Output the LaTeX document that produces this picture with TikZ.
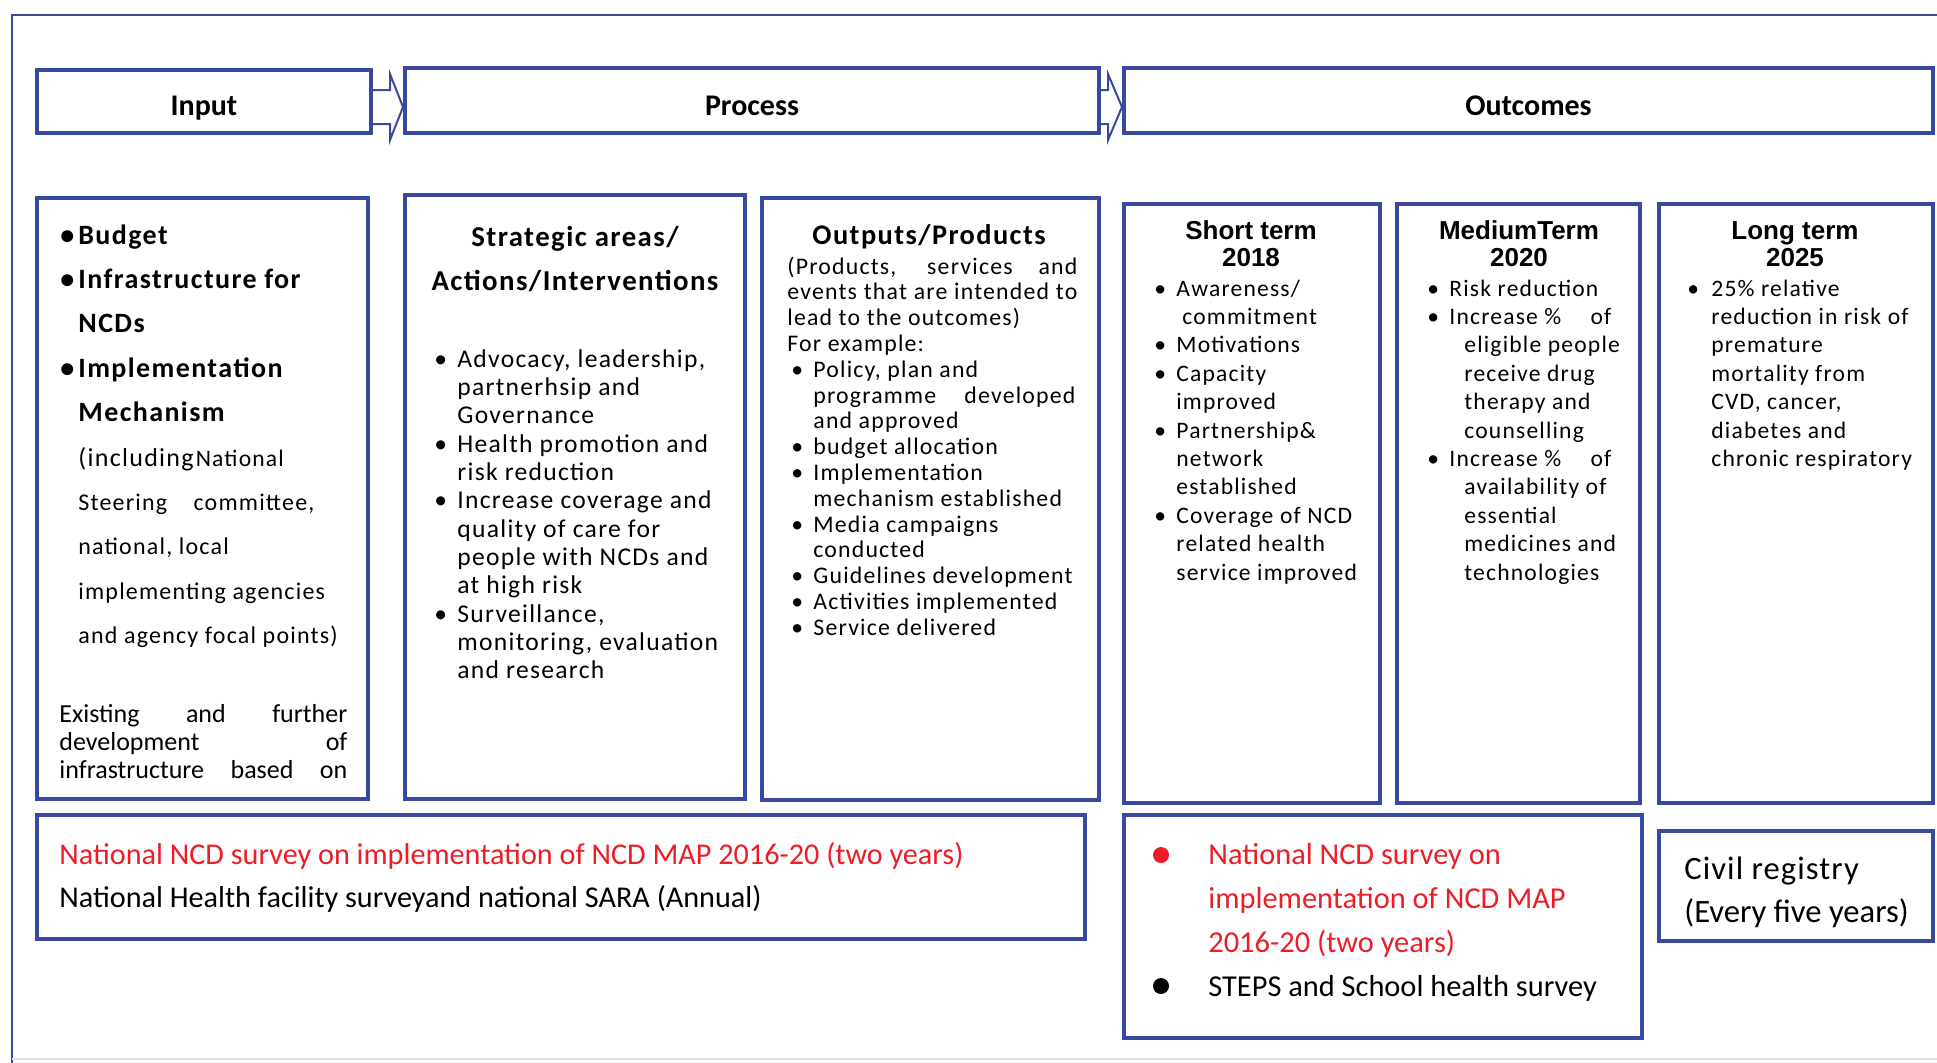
\documentclass[tikz,border=0pt]{standalone}
\usepackage{fontspec}
\setmainfont{Carlito}
\newfontfamily\widefont[LetterSpace=5]{Carlito}
\newfontfamily\arialfont{Liberation Sans}
\usetikzlibrary{fit,calc}

\definecolor{marco}{RGB}{57,73,160}
\definecolor{rojo}{RGB}{235,30,40}

% columna de vinetas
\newlength\sangria
\setlength\sangria{11pt}
\newcommand{\pto}{\makebox[\sangria][l]{\textbullet}}
\newcommand{\sig}{\hspace*{\sangria}}

\begin{document}
\begin{tikzpicture}[x=0.5pt, y=-0.5pt,
	caja/.style={draw=marco, line width=2pt, inner sep=0pt},
	encab/.style={font=\bfseries\fontsize{15}{18}\selectfont, inner sep=0pt},
	flecha/.style={draw=marco, line width=1pt},
	txt/.style={anchor=base west, inner sep=0pt},
	tit/.style={anchor=base, inner sep=0pt},
	punto/.style={circle, minimum size=8pt, inner sep=0pt}]

	% Dibujar el marco
	\useasboundingbox (0,0) rectangle (1937,1062);
	\fill[white] (0,0) rectangle (1937,1062);
	\draw[marco, line width=1.2pt] (1945,15) -- (12,15) -- (12,1065);
	\draw[gray!25, line width=1pt] (12,1059) -- (1937,1059);

	% Encabezados
	\node[caja, fit={(37,70) (371,133)}] (inhd) {};
	\node[caja, fit={(405,68) (1099,133)}] (prhd) {};
	\node[caja, fit={(1124,68) (1933,133)}] (ouhd) {};
	\node[encab] (inlab) at ($(inhd.center)+(0,7)$) {Input};
	\node[encab] (prlab) at ($(prhd.center)+(0,5)$) {Process};
	\node[encab] (oulab) at ($(ouhd.center)+(0,5)$) {Outcomes};

	% Flechas entre encabezados
	\draw[flecha] ($(inhd.east)+(0,-11.5)$) -- ++(17,0) -- ++(0,-16) -- ($(prhd.west)+(0,6.5)$)
		-- ($(inhd.east)+(17,38.5)$) -- ++(0,-16) -- ($(inhd.east)+(0,22.5)$);
	\draw[flecha] ($(prhd.east)+(0,-10.5)$) -- ++(7,0) -- ++(0,-16) -- ($(ouhd.west)+(0,6.5)$)
		-- ($(prhd.east)+(7,39.5)$) -- ++(0,-16) -- ($(prhd.east)+(0,23.5)$);

	% Cajas de contenido
	\node[caja, fit={(37,198) (368,799)}] (inbox) {};
	\node[caja, fit={(405,195) (745,799)}] (esbox) {};
	\node[caja, fit={(762,198) (1099,800)}] (opbox) {};
	\node[caja, fit={(1124,204) (1380,803)}] (ctbox) {};
	\node[caja, fit={(1397,204) (1640,803)}] (mpbox) {};
	\node[caja, fit={(1659,204) (1933,803)}] (lpbox) {};

	% Cajas de encuestas
	\node[caja, fit={(37,815) (1085,939)}] (sv1) {};
	\node[caja, fit={(1124,815) (1642,1038)}] (sv2) {};
	\node[caja, fit={(1659,831) (1933,941)}] (civ) {};

	% Texto de insumos
	\node[txt, font={\widefont\bfseries\fontsize{14}{22.2}\selectfont}] (intx) at (60,244) {\setlength\sangria{9pt}%
		\begin{tabular}[t]{@{}l@{}}
			\pto Budget\\
			\pto Infrastructure for\\
			\sig NCDs\\
			\pto Implementation\\
			\sig Mechanism\\
			\sig{\mdseries\fontsize{13}{22.2}\selectfont(including\kern1pt}{\mdseries\fontsize{11.8}{22.2}\selectfont National}\\
			\sig{\mdseries\fontsize{12}{22.2}\selectfont\makebox[118pt][s]{Steering committee,}}\\
			\sig{\mdseries\fontsize{12}{22.2}\selectfont national, local}\\
			\sig{\mdseries\fontsize{12}{22.2}\selectfont implementing agencies}\\
			\sig{\mdseries\fontsize{12}{22.2}\selectfont and agency focal points)}
		\end{tabular}};
	\node[txt, font={\fontsize{13}{14}\selectfont}] (extx) at (59,722) {%
		\begin{tabular}[t]{@{}l@{}}
			\makebox[144pt][s]{Existing and further}\\
			\makebox[144pt][s]{development of}\\
			\makebox[144pt][s]{infrastructure based on}
		\end{tabular}};

	% Texto de areas estrategicas
	\node[tit, font={\widefont\bfseries\fontsize{14.4}{22}\selectfont}] (estit) at (575,246.5) {%
		\begin{tabular}[t]{@{}c@{}}
			Strategic areas/\\
			Actions/Interventions
		\end{tabular}};
	\node[txt, font={\widefont\fontsize{12.8}{14.18}\selectfont}] (estx) at (434,367) {\setlength\sangria{11.5pt}%
		\begin{tabular}[t]{@{}l@{}}
			\pto Advocacy, leadership,\\
			\sig partnerhsip and\\
			\sig Governance\\
			\pto Health promotion and\\
			\sig risk reduction\\
			\pto Increase coverage and\\
			\sig quality of care for\\
			\sig people with NCDs and\\
			\sig at high risk\\
			\pto Surveillance,\\
			\sig monitoring, evaluation\\
			\sig and research
		\end{tabular}};

	% Texto de productos
	\node[tit, font={\widefont\bfseries\fontsize{14.2}{16}\selectfont}] (optit) at (929,244) {Outputs/Products};
	\node[txt, font={\widefont\fontsize{11.9}{12.9}\selectfont}] (optx) at (787,274) {%
		\begin{tabular}[t]{@{}l@{}}
			\makebox[145pt][s]{(Products, services and}\\
			\makebox[145pt][s]{events that are intended to}\\
			lead to the outcomes)\\
			For example:\\
			\hspace*{2pt}\pto Policy, plan and\\
			\hspace*{2pt}\sig\makebox[131pt][s]{programme developed}\\
			\hspace*{2pt}\sig and approved\\
			\hspace*{2pt}\pto budget allocation\\
			\hspace*{2pt}\pto Implementation\\
			\hspace*{2pt}\sig mechanism established\\
			\hspace*{2pt}\pto Media campaigns\\
			\hspace*{2pt}\sig conducted\\
			\hspace*{2pt}\pto Guidelines development\\
			\hspace*{2pt}\pto Activities implemented\\
			\hspace*{2pt}\pto Service delivered
		\end{tabular}};

	% Resultados a corto, mediano y largo plazo
	\node[tit, font={\arialfont\bfseries\fontsize{13}{13.5}\selectfont}] (cttit) at (1251,239) {%
		\begin{tabular}[t]{@{}c@{}} Short term\\ 2018 \end{tabular}};
	\node[tit, font={\arialfont\bfseries\fontsize{13}{13.5}\selectfont}] (mptit) at (1519,239) {%
		\begin{tabular}[t]{@{}c@{}} MediumTerm\\ 2020 \end{tabular}};
	\node[tit, font={\arialfont\bfseries\fontsize{13}{13.5}\selectfont}] (lptit) at (1795,239) {%
		\begin{tabular}[t]{@{}c@{}} Long term\\ 2025 \end{tabular}};

	\node[txt, font={\widefont\fontsize{11.8}{14.2}\selectfont}] (cttx) at (1154,296) {%
		\begin{tabular}[t]{@{}l@{}}
			\pto Awareness/\\
			\sig\hspace*{3pt}commitment\\
			\pto Motivations\\
			\pto Capacity\\
			\sig improved\\
			\pto Partnership\&\\
			\sig network\\
			\sig established\\
			\pto Coverage of NCD\\
			\sig related health\\
			\sig service improved
		\end{tabular}};
	\node[txt, font={\widefont\fontsize{11.8}{14.2}\selectfont}] (mptx) at (1427,296) {%
		\begin{tabular}[t]{@{}l@{}}
			\pto Risk reduction\\
			\pto\makebox[81pt][l]{Increase \%\hfill of}\\
			\sig\hspace*{7.5pt}eligible people\\
			\sig\hspace*{7.5pt}receive drug\\
			\sig\hspace*{7.5pt}therapy and\\
			\sig\hspace*{7.5pt}counselling\\
			\pto\makebox[81pt][l]{Increase \%\hfill of}\\
			\sig\hspace*{7.5pt}availability of\\
			\sig\hspace*{7.5pt}essential\\
			\sig\hspace*{7.5pt}medicines and\\
			\sig\hspace*{7.5pt}technologies
		\end{tabular}};
	\node[txt, font={\widefont\fontsize{11.8}{14.2}\selectfont}] (lptx) at (1687,296) {\setlength\sangria{12pt}%
		\begin{tabular}[t]{@{}l@{}}
			\pto 25\% relative\\
			\sig reduction in risk of\\
			\sig premature\\
			\sig mortality from\\
			\sig CVD, cancer,\\
			\sig diabetes and\\
			\sig chronic respiratory
		\end{tabular}};

	% Texto de encuestas
	\node[txt, font={\fontsize{15.1}{21.5}\selectfont}] (sv1tx) at (59,864) {%
		\begin{tabular}[t]{@{}l@{}}
			\textcolor{rojo}{National NCD survey on implementation of NCD MAP 2016-20 (two years)}\\
			National Health facility surveyand national SARA (Annual)
		\end{tabular}};
	\node[punto, fill=rojo] (p1) at (1161,855) {};
	\node[punto, fill=black] (p2) at (1161,986) {};
	\node[txt, font={\fontsize{15.2}{22}\selectfont}] (sv2tx) at (1208,864) {%
		\begin{tabular}[t]{@{}l@{}}
			\textcolor{rojo}{National NCD survey on}\\
			\textcolor{rojo}{implementation of NCD MAP}\\
			\textcolor{rojo}{2016-20 (two years)}\\
			STEPS and School health survey
		\end{tabular}};
	\node[txt, font={\fontsize{16.3}{21.5}\selectfont}] (civtx) at (1684,879) {%
		\begin{tabular}[t]{@{}l@{}}
			{\addfontfeature{LetterSpace=3.3}Civil registry}\\
			(Every five years)
		\end{tabular}};
\end{tikzpicture}
\end{document}
